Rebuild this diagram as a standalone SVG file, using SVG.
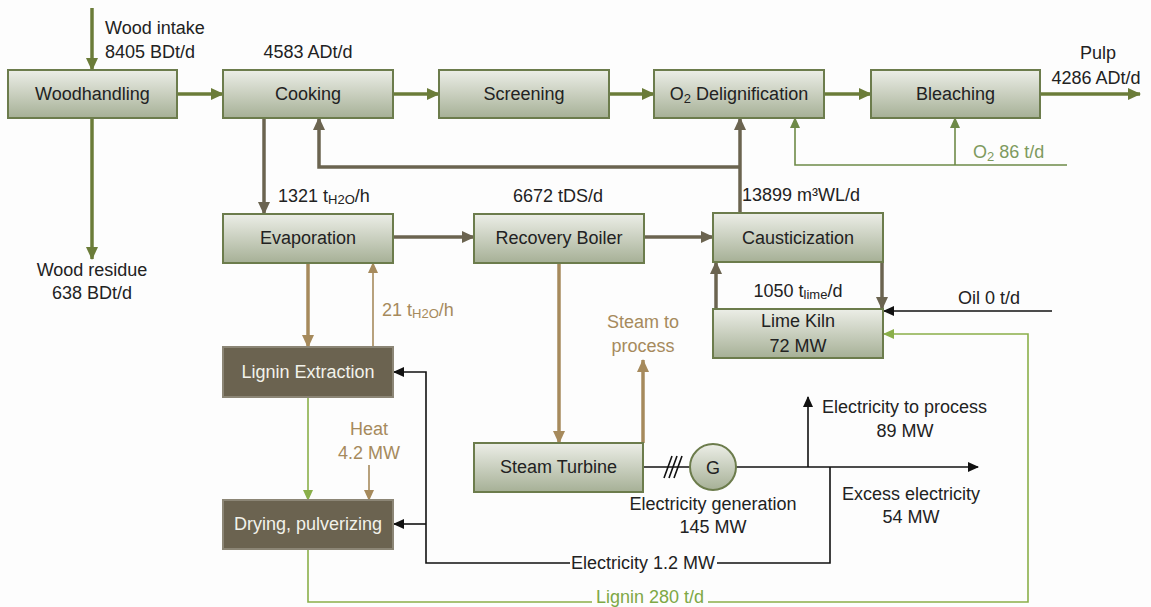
<svg xmlns="http://www.w3.org/2000/svg" width="1151" height="607" viewBox="0 0 1151 607">
<defs>
<linearGradient id="gbox" x1="0" y1="0" x2="0" y2="1">
<stop offset="0" stop-color="#eceee7"/>
<stop offset="1" stop-color="#a6b096"/>
</linearGradient>
<marker id="aG" markerUnits="userSpaceOnUse" markerWidth="14" markerHeight="14" refX="12" refY="7" orient="auto"><path d="M0,1 L13,7 L0,13 Z" fill="#6b7c39"/></marker>
<marker id="aB" markerUnits="userSpaceOnUse" markerWidth="14" markerHeight="14" refX="12" refY="7" orient="auto"><path d="M0,1 L13,7 L0,13 Z" fill="#6b6450"/></marker>
<marker id="aT" markerUnits="userSpaceOnUse" markerWidth="14" markerHeight="14" refX="12" refY="7" orient="auto"><path d="M0,1 L13,7 L0,13 Z" fill="#a68a5c"/></marker>
<marker id="aTs" markerUnits="userSpaceOnUse" markerWidth="12" markerHeight="12" refX="10" refY="6" orient="auto"><path d="M0,1 L11,6 L0,11 Z" fill="#a68a5c"/></marker>
<marker id="aLG" markerUnits="userSpaceOnUse" markerWidth="12" markerHeight="12" refX="10" refY="6" orient="auto"><path d="M0,1 L11,6 L0,11 Z" fill="#8aaf4a"/></marker>
<marker id="aOG" markerUnits="userSpaceOnUse" markerWidth="12" markerHeight="12" refX="10" refY="6" orient="auto"><path d="M0,1 L11,6 L0,11 Z" fill="#6e8a48"/></marker>
<marker id="aK" markerUnits="userSpaceOnUse" markerWidth="12" markerHeight="12" refX="10" refY="6" orient="auto"><path d="M0,1 L11,6 L0,11 Z" fill="#111"/></marker>
</defs>
<style>
text{font-family:"Liberation Sans",Arial,sans-serif;font-size:18px;fill:#222}
.box{fill:url(#gbox);stroke:#6c7c4c;stroke-width:2}
.dbox{fill:#6b6350;stroke:#8c8676;stroke-width:2}
.dt{fill:#f2f2ea}
.tan{fill:#a68a5c}
.og{fill:#7e9a5e}
.lg{fill:#7ea845}
.c{text-anchor:middle}
.sub{font-size:13px}
.g{stroke:#6b7c39;stroke-width:3.5;fill:none}
.b{stroke:#6b6450;stroke-width:3.5;fill:none}
.t{stroke:#a68a5c;stroke-width:3.5;fill:none}
.ts{stroke:#a68a5c;stroke-width:1.6;fill:none}
.lgl{stroke:#8aaf4a;stroke-width:1.6;fill:none}
.ogl{stroke:#6e8a48;stroke-width:1.6;fill:none}
.k{stroke:#111;stroke-width:1.6;fill:none}
</style>
<rect width="1151" height="607" fill="#fdfdfd"/>
<g id="connectors">
<line class="g" x1="92" y1="8" x2="92" y2="70" marker-end="url(#aG)"/>
<line class="g" x1="177" y1="94" x2="223" y2="94" marker-end="url(#aG)"/>
<line class="g" x1="393" y1="94" x2="439" y2="94" marker-end="url(#aG)"/>
<line class="g" x1="609" y1="94" x2="654" y2="94" marker-end="url(#aG)"/>
<line class="g" x1="824" y1="94" x2="871" y2="94" marker-end="url(#aG)"/>
<line class="g" x1="1040" y1="94" x2="1140" y2="94" marker-end="url(#aG)"/>
<line class="g" x1="92" y1="118" x2="92" y2="259" marker-end="url(#aG)"/>
<line class="b" x1="264" y1="118" x2="264" y2="214" marker-end="url(#aB)"/>
<line class="b" x1="740" y1="213" x2="740" y2="118" marker-end="url(#aB)"/>
<polyline class="b" points="740,167 319,167 319,118" marker-end="url(#aB)"/>
<line class="b" x1="393" y1="237" x2="474" y2="237" marker-end="url(#aB)"/>
<line class="b" x1="644" y1="237" x2="713" y2="237" marker-end="url(#aB)"/>
<line class="b" x1="882" y1="262" x2="882" y2="309" marker-end="url(#aB)"/>
<line class="b" x1="716" y1="309" x2="716" y2="262" marker-end="url(#aB)"/>
<line class="k" x1="1052" y1="311" x2="884" y2="311" marker-end="url(#aK)"/>
<polyline class="lgl" points="308,549 308,602 592,602"/>
<polyline class="lgl" points="708,602 1028,602 1028,334 884,334" marker-end="url(#aLG)"/>
<polyline class="ogl" points="1067,165 795,165 795,118" marker-end="url(#aOG)"/>
<line class="ogl" x1="955" y1="165" x2="955" y2="118" marker-end="url(#aOG)"/>
<line class="t" x1="308" y1="263" x2="308" y2="347" marker-end="url(#aT)"/>
<line class="ts" x1="373" y1="347" x2="373" y2="263" marker-end="url(#aTs)"/>
<line class="t" x1="559" y1="263" x2="559" y2="443" marker-end="url(#aT)"/>
<line class="t" x1="643" y1="443" x2="643" y2="360" marker-end="url(#aT)"/>
<line class="lgl" x1="308" y1="397" x2="308" y2="500" marker-end="url(#aLG)"/>
<line class="ts" x1="369" y1="465" x2="369" y2="500" marker-end="url(#aTs)"/>
<line class="k" x1="643" y1="467" x2="690" y2="467"/>
<path class="k" d="M664,478 L672,456 M669,478 L677,456 M674,478 L682,456"/>
<line class="k" x1="736" y1="467" x2="978" y2="467" marker-end="url(#aK)"/>
<line class="k" x1="808" y1="467" x2="808" y2="397" marker-end="url(#aK)"/>
<polyline class="k" points="830,467 830,563 717,563"/>
<polyline class="k" points="570,563 426,563 426,372 394,372" marker-end="url(#aK)"/>
<line class="k" x1="426" y1="524" x2="394" y2="524" marker-end="url(#aK)"/>
</g>
<g id="woodhandling"><rect class="box" x="8" y="70" width="169" height="48"/><text class="c" x="92.5" y="100">Woodhandling</text></g>
<g id="cooking"><rect class="box" x="223" y="70" width="170" height="48"/><text class="c" x="308" y="100">Cooking</text></g>
<g id="screening"><rect class="box" x="439" y="70" width="170" height="48"/><text class="c" x="524" y="100">Screening</text></g>
<g id="o2delig"><rect class="box" x="654" y="70" width="170" height="48"/><text class="c" x="739" y="100">O<tspan class="sub" dy="3">2</tspan><tspan dy="-3"> Delignification</tspan></text></g>
<g id="bleaching"><rect class="box" x="871" y="70" width="169" height="48"/><text class="c" x="955.5" y="100">Bleaching</text></g>
<g id="evaporation"><rect class="box" x="223" y="214" width="170" height="49"/><text class="c" x="308" y="244">Evaporation</text></g>
<g id="recovery"><rect class="box" x="474" y="214" width="170" height="49"/><text class="c" x="559" y="244">Recovery Boiler</text></g>
<g id="causticization"><rect class="box" x="713" y="213" width="170" height="49"/><text class="c" x="798" y="244">Causticization</text></g>
<g id="limekiln"><rect class="box" x="713" y="309" width="170" height="49"/><text class="c" x="798" y="327">Lime Kiln</text><text class="c" x="798" y="352">72 MW</text></g>
<g id="lignin"><rect class="dbox" x="223" y="347" width="170" height="50"/><text class="c dt" x="308" y="378">Lignin Extraction</text></g>
<g id="drying"><rect class="dbox" x="223" y="500" width="170" height="49"/><text class="c dt" x="308" y="530">Drying, pulverizing</text></g>
<g id="turbine"><rect class="box" x="474" y="443" width="169" height="49"/><text class="c" x="558.5" y="473">Steam Turbine</text></g>
<g id="generator"><circle cx="713" cy="467" r="23" fill="url(#gbox)" stroke="#6c7c4c" stroke-width="2"/><text class="c" x="713" y="474">G</text></g>
<g id="labels">
<text x="105" y="34">Wood intake</text>
<text x="105" y="58">8405 BDt/d</text>
<text class="c" x="308" y="58">4583 ADt/d</text>
<text class="c" x="1098" y="59">Pulp</text>
<text class="c" x="1096" y="84">4286 ADt/d</text>
<text class="c" x="92" y="276">Wood residue</text>
<text class="c" x="92" y="299">638 BDt/d</text>
<text class="og" x="973" y="158">O<tspan class="sub" dy="3">2</tspan><tspan dy="-3"> 86 t/d</tspan></text>
<text x="278" y="202">1321 t<tspan class="sub" dy="2">H2O</tspan><tspan dy="-2">/h</tspan></text>
<text class="c" x="558" y="202">6672 tDS/d</text>
<text x="742" y="201">13899 m³WL/d</text>
<text class="c" x="798" y="297">1050 t<tspan class="sub" dy="2">lime</tspan><tspan dy="-2">/d</tspan></text>
<text x="958" y="304">Oil 0 t/d</text>
<text class="tan" x="382" y="316">21 t<tspan class="sub" dy="2">H2O</tspan><tspan dy="-2">/h</tspan></text>
<text class="c tan" x="643" y="328">Steam to</text>
<text class="c tan" x="643" y="352">process</text>
<text class="c tan" x="369" y="435">Heat</text>
<text class="c tan" x="369" y="459">4.2 MW</text>
<text x="822" y="413">Electricity to process</text>
<text class="c" x="905" y="437">89 MW</text>
<text class="c" x="911" y="500">Excess electricity</text>
<text class="c" x="911" y="523">54 MW</text>
<text class="c" x="713" y="510">Electricity generation</text>
<text class="c" x="713" y="533">145 MW</text>
<text class="c" x="643" y="569">Electricity 1.2 MW</text>
<text class="c lg" x="650" y="603">Lignin 280 t/d</text>
</g>
</svg>
